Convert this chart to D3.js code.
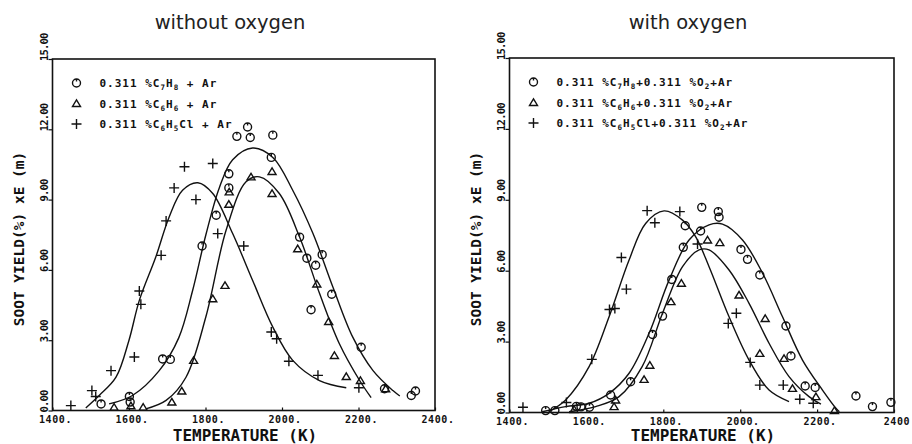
<!DOCTYPE html>
<html><head><meta charset="utf-8">
<script src="https://cdn.jsdelivr.net/npm/d3@7"></script>
<style>
body{margin:0;background:#fff;}
svg{display:block;}
.mono{font-family:"DejaVu Sans Mono",monospace;font-weight:bold;fill:#111;}
</style></head><body>
<svg id="c" width="912" height="444"></svg>
<script>
// ---------- DATA ----------
const xTicks = [1400, 1600, 1800, 2000, 2200, 2400];
const xTickLabelsLeft = ["1400.", "1600.", "1800.", "2000.", "2200.", "2400."];
const xTickLabelsRight = ["1400.", "1600.", "1800.", "2000.", "2200.", "2400"];
const yTicks = [0, 3, 6, 9, 12, 15];
const yTickLabels = ["0.00", "3.00", "6.00", "9.00", "12.00", "15.00"];
const panelTitles = ["without oxygen", "with oxygen"];
const xTitle = "TEMPERATURE (K)";
const yTitle = "SOOT YIELD(%) xE (m)";

// legend label segments: [text, isSubscript]
const legendLeft = [
  [["0.311 %C",0],["7",1],["H",0],["8",1],[" + Ar",0]],
  [["0.311 %C",0],["6",1],["H",0],["6",1],[" + Ar",0]],
  [["0.311 %C",0],["6",1],["H",0],["5",1],["Cl + Ar",0]]
];
const legendRight = [
  [["0.311 %C",0],["7",1],["H",0],["8",1],["+0.311 %O",0],["2",1],["+Ar",0]],
  [["0.311 %C",0],["6",1],["H",0],["6",1],["+0.311 %O",0],["2",1],["+Ar",0]],
  [["0.311 %C",0],["6",1],["H",0],["5",1],["Cl+0.311 %O",0],["2",1],["+Ar",0]]
];

// ---- without oxygen: measured points [T, yield]
const noO2_C7H8 = [[1527,0.28],[1601,0.6],[1603,0.36],[1688,2.2],[1708,2.18],[1791,7.02],[1828,8.33],
  [1861,10.1],[1861,9.5],[1882,11.7],[1910,12.1],[1917,11.65],[1976,11.75],[1972,10.8],[2046,7.4],
  [2065,6.5],[2088,6.2],[2105,6.65],[2076,4.3],[2130,4.96],[2207,2.7],[2268,0.93],[2338,0.64],[2349,0.83]];
const noO2_C6H6 = [[1561,0.14],[1605,0.2],[1637,0.14],[1712,0.36],[1738,0.83],[1769,2.14],[1819,4.77],
  [1851,5.34],[1862,9.33],[1861,8.8],[1919,9.97],[1974,10.2],[1974,9.26],[2041,6.9],[2091,5.4],
  [2122,3.8],[2137,2.35],[2168,1.45],[2205,1.28],[2271,0.93]];
const noO2_C6H5Cl = [[1448,0.21],[1503,0.85],[1513,0.6],[1553,1.7],[1614,2.28],[1627,5.1],[1631,4.53],
  [1684,6.62],[1697,8.09],[1718,9.5],[1745,10.4],[1775,9.0],[1819,10.54],[1832,7.55],[1900,7.02],
  [1972,3.35],[1986,3.06],[2018,2.1],[2094,1.5],[2201,0.97]];
// fitted curves
const noO2_fit_C7H8 = [[1548,0.28],[1609,0.64],[1679,1.7],[1730,3.1],[1766,5.1],[1801,7.5],[1836,9.5],
  [1871,10.7],[1923,11.2],[1976,10.8],[2028,9.4],[2081,7.55],[2133,5.27],[2185,3.13],[2238,1.7],
  [2290,0.85],[2308,0.62]];
const noO2_fit_C6H6 = [[1644,0.07],[1697,0.43],[1749,1.42],[1801,4.0],[1854,7.7],[1906,9.76],[1941,9.97],
  [1993,9.26],[2046,7.4],[2098,5.0],[2150,2.85],[2203,1.28],[2233,0.55]];
const noO2_fit_C6H5Cl = [[1487,0.11],[1522,0.64],[1566,1.42],[1600,3.0],[1627,4.7],[1670,6.55],[1705,8.26],
  [1740,9.4],[1780,9.72],[1819,9.26],[1871,7.55],[1923,5.56],[1976,3.56],[2028,2.14],[2098,1.28],[2168,0.97]];

// ---- with oxygen
const O2_C7H8 = [[1494,0.08],[1518,0.08],[1574,0.26],[1586,0.24],[1608,0.22],[1663,0.74],[1715,1.3],
  [1772,3.3],[1798,4.08],[1822,5.63],[1852,6.99],[1857,7.9],[1900,8.68],[1897,7.68],[1943,8.5],
  [1945,8.26],[2002,6.9],[2019,6.48],[2051,5.82],[2119,3.66],[2132,2.39],[2169,1.12],[2195,1.06],
  [2301,0.7],[2344,0.25],[2392,0.43]];
const O2_C6H6 = [[1568,0.13],[1672,0.25],[1676,0.53],[1750,1.4],[1765,2.0],[1820,4.69],[1847,5.47],
  [1915,7.3],[1947,7.19],[1997,4.97],[2065,3.98],[2051,2.5],[2114,2.29],[2136,1.02],[2197,0.67],[2245,0.08]];
const O2_C6H5Cl = [[1435,0.22],[1548,0.42],[1614,2.25],[1660,4.36],[1674,4.4],[1691,6.56],[1704,5.22],
  [1758,8.54],[1778,8.03],[1843,8.5],[1889,7.13],[1969,3.77],[1990,4.2],[2026,2.12],[2051,1.16],
  [2112,1.16],[2155,0.56],[2190,0.39]];
const O2_fit_C7H8 = [[1485,0.03],[1546,0.25],[1607,0.39],[1659,0.81],[1711,1.66],[1763,3.35],[1815,5.6],
  [1867,7.3],[1919,7.94],[1954,7.97],[2006,7.3],[2058,5.9],[2110,4.05],[2162,2.22],[2214,0.95],[2249,0.18],[2258,0.03]];
const O2_fit_C6H6 = [[1555,0.03],[1624,0.25],[1685,0.67],[1745,1.94],[1798,4.2],[1850,6.17],[1893,6.88],
  [1919,6.88],[1971,6.03],[2023,4.62],[2075,2.93],[2127,1.52],[2179,0.67],[2210,0.35]];
const O2_fit_C6H5Cl = [[1502,0.03],[1546,0.53],[1607,1.94],[1659,4.05],[1711,6.45],[1754,8.0],[1802,8.53],
  [1850,8.14],[1884,7.44],[1919,6.17],[1971,4.05],[2023,2.22],[2075,0.95],[2127,0.46]];

// ---------- DRAW ----------
const svg = d3.select("#c");

function symbol(g, type, x, y) {
  const s = g.append("g").attr("transform", `translate(${x},${y})`)
    .attr("fill","none").attr("stroke","#111").attr("stroke-width",1.4);
  if (type === "circle") {
    s.append("circle").attr("r", 4);
    s.append("line").attr("x1",0).attr("x2",0).attr("y1",-4).attr("y2",-1.5);
  } else if (type === "tri") {
    s.append("path").attr("d","M0,-3.6L4,3L-4,3Z");
  } else {
    s.append("path").attr("d","M-5,0H5M0,-5V5");
  }
}

function panel(cfg) {
  const x = d3.scaleLinear().domain([1400, 2400]).range([cfg.x0, cfg.x1]);
  const y = d3.scaleLinear().domain([0, 15]).range([cfg.y1, cfg.y0]);
  const g = svg.append("g");

  // frame
  g.append("rect").attr("x", cfg.x0).attr("y", cfg.y0)
    .attr("width", cfg.x1 - cfg.x0).attr("height", cfg.y1 - cfg.y0)
    .attr("fill","none").attr("stroke","#111").attr("stroke-width",1.6);

  // x axis
  const xa = g.append("g").attr("transform", `translate(0,${cfg.y1})`)
    .call(d3.axisBottom(x).tickValues(xTicks).tickSize(-3).tickFormat(""));
  xa.select(".domain").remove();
  xa.selectAll("line").attr("stroke","#111").attr("stroke-width",1.2);
  g.selectAll(".xl").data(xTicks).enter().append("text")
    .attr("class","mono").attr("x", d => x(d) + 3).attr("y", cfg.y1 + 12)
    .attr("text-anchor","middle").style("font-size","10px").style("letter-spacing","0.6px")
    .text((d,i) => cfg.xLabels[i]);

  // y axis
  const ya = g.append("g").attr("transform", `translate(${cfg.x0},0)`)
    .call(d3.axisLeft(y).tickValues(yTicks).tickSize(4).tickFormat(""));
  ya.select(".domain").remove();
  ya.selectAll("line").attr("stroke","#111").attr("stroke-width",1.2);
  g.selectAll(".yl").data(yTicks).enter().append("text")
    .attr("class","mono")
    .attr("transform", d => `translate(${cfg.x0 - 5},${y(d) + 2}) rotate(-90)`)
    .attr("text-anchor","start").style("font-size","10.5px").style("letter-spacing","-0.8px")
    .text((d,i) => yTickLabels[i]);

  // titles
  g.append("text").attr("x", cfg.titleX).attr("y", 29).attr("text-anchor","middle")
    .style("font-family","'DejaVu Sans',sans-serif").style("font-size","19.5px").attr("fill","#222")
    .text(cfg.title);
  g.append("text").attr("class","mono").attr("x", cfg.xTitleX).attr("y", 441)
    .attr("text-anchor","middle").style("font-size","16px").text(xTitle);
  g.append("text").attr("class","mono")
    .attr("transform", `translate(${cfg.x0 - 29},${239}) rotate(-90)`)
    .attr("text-anchor","middle").style("font-size","14.5px").text(yTitle);

  // curves
  const line = d3.line().x(d => x(d[0])).y(d => y(d[1])).curve(d3.curveCatmullRom.alpha(0.5));
  cfg.fits.forEach(f => {
    g.append("path").attr("d", line(f)).attr("fill","none")
      .attr("stroke","#111").attr("stroke-width",1.4);
  });

  // points
  const types = ["circle","tri","plus"];
  cfg.series.forEach((s, i) => {
    s.forEach(p => symbol(g, types[i], x(p[0]), y(p[1])));
  });

  // legend
  cfg.legend.forEach((segs, i) => {
    const ly = cfg.legY + i * 20.5;
    symbol(g, types[i], cfg.x0 + 24, ly);
    const t = g.append("text").attr("class","mono").attr("x", cfg.x0 + 47).attr("y", ly + 4)
      .style("font-size","11px").style("letter-spacing","1px");
    let sub = false;
    segs.forEach(([txt, isSub]) => {
      let dy = 0;
      if (isSub && !sub) dy = 3; else if (!isSub && sub) dy = -3;
      sub = !!isSub;
      t.append("tspan").attr("dy", dy).style("font-size", isSub ? "7.5px" : "11px").text(txt);
    });
  });
}

panel({x0:52.5, x1:435, y0:59, y1:410.5, title:panelTitles[0], titleX:230, xTitleX:245,
  xLabels:xTickLabelsLeft, legY:83,
  series:[noO2_C7H8, noO2_C6H6, noO2_C6H5Cl],
  fits:[noO2_fit_C7H8, noO2_fit_C6H6, noO2_fit_C6H5Cl], legend:legendLeft});
panel({x0:509.5, x1:894, y0:58, y1:412.5, title:panelTitles[1], titleX:688, xTitleX:703,
  xLabels:xTickLabelsRight, legY:82,
  series:[O2_C7H8, O2_C6H6, O2_C6H5Cl],
  fits:[O2_fit_C7H8, O2_fit_C6H6, O2_fit_C6H5Cl], legend:legendRight});
</script></body></html>
